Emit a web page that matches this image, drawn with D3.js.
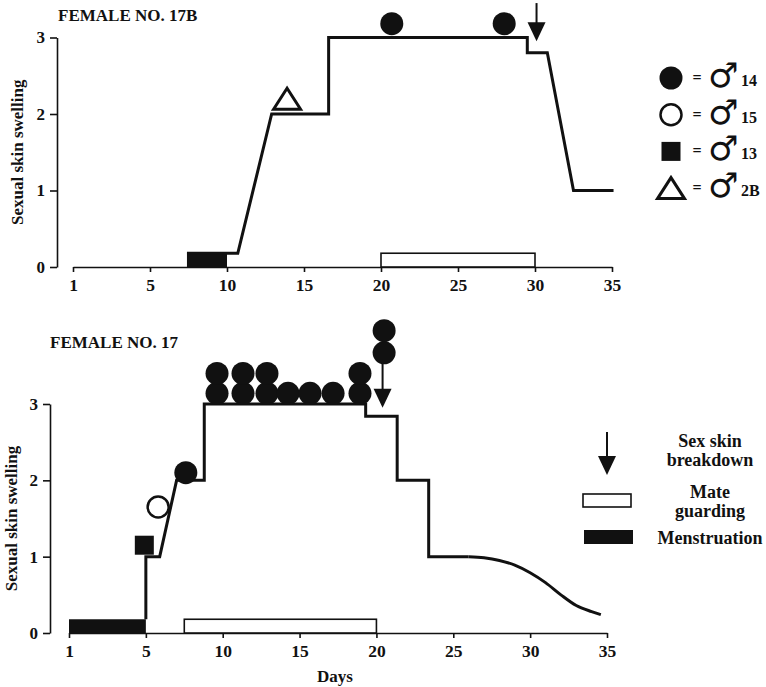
<!DOCTYPE html>
<html>
<head>
<meta charset="utf-8">
<script src="https://cdn.jsdelivr.net/npm/d3@7"></script>
<style>
body { margin: 0; background: #fff; }
text { font-family: "Liberation Serif", "Times New Roman", serif; font-weight: bold; fill: #111; }
</style>
</head>
<body>
<svg id="chart" width="766" height="687"></svg>
<script>
// day axis: first tick sits at day 0 but is printed "1"
const dayTicks = [0, 5, 10, 15, 20, 25, 30, 35];
const dayTickLabels = ["1", "5", "10", "15", "20", "25", "30", "35"];
const swellTicks = [0, 1, 2, 3];
const barHeight = 0.18; // menstruation / mate guarding bars, in swelling units

// FEMALE NO. 17B  [day, swelling]
const f17bSwelling = [[7.4, 0.18], [10.7, 0.18], [12.9, 2], [16.6, 2], [16.6, 3], [29.5, 3],
  [29.5, 2.8], [30.8, 2.8], [32.5, 1], [35.1, 1]];
const f17bMenses = [7.4, 10];
const f17bGuarding = [20, 30];
const f17bMale14 = [[20.7, 3.18], [28, 3.18]];
const f17bMale2B = [[13.9, 2.2]];
const f17bBreakdown = [[30.1, 3.45, 2.95]]; // day, arrow top, arrow tip

// FEMALE NO. 17
const f17Steps = [[5, 0.18], [5, 1], [5.9, 1], [7.0, 2], [8.8, 2], [8.8, 3], [19.3, 3], [19.3, 2.84],
  [21.35, 2.84], [21.35, 2], [23.4, 2], [23.4, 1], [26, 1]];
const f17Decline = [[26, 1], [27, 0.985], [28, 0.95], [29, 0.89], [30, 0.79], [31, 0.66], [32, 0.5],
  [33, 0.36], [34, 0.28], [34.6, 0.24]];
const f17Menses = [0, 5];
const f17Guarding = [7.5, 20];
const f17Male14 = [[7.6, 2.1],
  [9.63, 3.14], [11.32, 3.14], [12.88, 3.14], [14.25, 3.14], [15.68, 3.14], [17.18, 3.14], [18.93, 3.14],
  [9.63, 3.4], [11.32, 3.4], [12.88, 3.4], [18.93, 3.4],
  [20.5, 3.67], [20.5, 3.96]];
const f17Male15 = [[5.8, 1.65]];
const f17Male13 = [[4.9, 1.15]];
const f17Breakdown = [[20.4, 3.54, 2.95]];

// legends
const maleSymbols = ["dot", "ring", "square", "triangle"];
const maleIds = ["14", "15", "13", "2B"];
const keyLabels = [["Sex skin", "breakdown"], ["Mate", "guarding"], ["Menstruation"]];

const svg = d3.select("#chart");

function symbol(g, type, cx, cy) {
  if (type === "dot") {
    g.append("circle").attr("cx", cx).attr("cy", cy).attr("r", 11.5).attr("fill", "#111");
  } else if (type === "ring") {
    g.append("circle").attr("cx", cx).attr("cy", cy).attr("r", 10.5)
      .attr("fill", "#fff").attr("stroke", "#111").attr("stroke-width", 2.5);
  } else if (type === "square") {
    g.append("rect").attr("x", cx - 9.5).attr("y", cy - 9.5).attr("width", 19).attr("height", 19).attr("fill", "#111");
  } else {
    g.append("path").attr("transform", `translate(${cx},${cy})`)
      .attr("d", "M-13.5,10.5L0,-10.5L13.5,10.5Z")
      .attr("fill", "#fff").attr("stroke", "#111").attr("stroke-width", 3).attr("stroke-linejoin", "miter");
  }
}

function arrow(g, ax, y1, y2) {
  g.append("line").attr("x1", ax).attr("x2", ax).attr("y1", y1).attr("y2", y2 - 12)
    .attr("stroke", "#111").attr("stroke-width", 2);
  g.append("path").attr("d", `M${ax - 9},${y2 - 19}L${ax + 9},${y2 - 19}L${ax},${y2}Z`).attr("fill", "#111");
}

function drawPanel(p) {
  const x = d3.scaleLinear().domain([0, 35]).range(p.xRange);
  const y = d3.scaleLinear().domain([0, 3]).range(p.yRange);
  const g = svg.append("g");

  const xAxis = g.append("g")
    .attr("transform", `translate(0,${y(0)})`)
    .call(d3.axisBottom(x).tickValues(dayTicks).tickFormat((d, i) => dayTickLabels[i])
      .tickSize(5).tickSizeOuter(0).tickPadding(7));
  const yAxis = g.append("g")
    .attr("transform", `translate(${p.yAxisX},0)`)
    .call(d3.axisLeft(y).tickValues(swellTicks).tickFormat(d3.format("d"))
      .tickSize(7).tickSizeOuter(0).tickPadding(5));
  [xAxis, yAxis].forEach(a => {
    a.attr("font-family", null).attr("font-size", null);
    a.selectAll("path, line").attr("stroke", "#111").attr("stroke-width", 1.6);
  });
  xAxis.selectAll("text").style("font-size", "17.5px");
  yAxis.selectAll("text").style("font-size", "17px");

  g.append("text").attr("x", p.titleX).attr("y", p.titleY).style("font-size", "17px").text(p.title);
  g.append("text")
    .attr("transform", `translate(${p.labelX},${(y(0) + y(3)) / 2}) rotate(-90)`)
    .attr("text-anchor", "middle").attr("dy", "0.35em").style("font-size", "17px")
    .text("Sexual skin swelling");

  // bars
  g.append("rect").attr("x", x(p.guarding[0])).attr("y", y(barHeight))
    .attr("width", x(p.guarding[1]) - x(p.guarding[0])).attr("height", y(0) - y(barHeight))
    .attr("fill", "#fff").attr("stroke", "#111").attr("stroke-width", 1.6);
  g.append("rect").attr("x", x(p.menses[0])).attr("y", y(barHeight))
    .attr("width", x(p.menses[1]) - x(p.menses[0])).attr("height", y(0) - y(barHeight))
    .attr("fill", "#111");

  // swelling line
  const line = d3.line().x(d => x(d[0])).y(d => y(d[1]));
  p.lines.forEach(l => {
    g.append("path").attr("d", line.curve(l.curve)(l.data))
      .attr("fill", "none").attr("stroke", "#111").attr("stroke-width", 3)
      .attr("stroke-linejoin", "miter");
  });

  p.marks.forEach(m => m.data.forEach(d => symbol(g, m.type, x(d[0]), y(d[1]))));
  p.breakdown.forEach(d => arrow(g, x(d[0]), y(d[1]), y(d[2])));
}

drawPanel({
  title: "FEMALE NO. 17B", titleX: 58, titleY: 21, labelX: 17,
  xRange: [73, 612], yRange: [267, 37.5], yAxisX: 57,
  menses: f17bMenses, guarding: f17bGuarding,
  lines: [{ data: f17bSwelling, curve: d3.curveLinear }],
  marks: [{ type: "dot", data: f17bMale14 }, { type: "triangle", data: f17bMale2B }],
  breakdown: f17bBreakdown
});

drawPanel({
  title: "FEMALE NO. 17", titleX: 50, titleY: 348, labelX: 11,
  xRange: [69, 607], yRange: [633, 404], yAxisX: 50,
  menses: f17Menses, guarding: f17Guarding,
  lines: [{ data: f17Steps, curve: d3.curveLinear }, { data: f17Decline, curve: d3.curveMonotoneX }],
  marks: [{ type: "dot", data: f17Male14 }, { type: "ring", data: f17Male15 },
    { type: "square", data: f17Male13 }],
  breakdown: f17Breakdown
});

svg.append("text").attr("x", 335).attr("y", 682).attr("text-anchor", "middle")
  .style("font-size", "17px").text("Days");

// male key (top right)
const key = svg.append("g");
maleSymbols.forEach((s, i) => {
  const cy = 78 + i * 36.7;
  symbol(key, s, 671, cy);
  key.append("text").attr("x", 697).attr("y", cy + 5).attr("text-anchor", "middle")
    .style("font-size", "16px").text("=");
  key.append("text").attr("x", 708).attr("y", cy + 9)
    .style("font-family", "DejaVu Sans").style("font-size", "34px").text("\u2642");
  key.append("text").attr("x", 741).attr("y", cy + 8)
    .style("font-size", "16px").text(maleIds[i]);
});

// event key (bottom right)
const ev = svg.append("g");
arrow(ev, 607, 432, 475);
ev.append("rect").attr("x", 583).attr("y", 494).attr("width", 48).attr("height", 13)
  .attr("fill", "#fff").attr("stroke", "#111").attr("stroke-width", 1.6);
ev.append("rect").attr("x", 584).attr("y", 530).attr("width", 49).attr("height", 14).attr("fill", "#111");
const keyY = [[447, 466], [498, 517], [544]];
keyLabels.forEach((lines, i) => {
  lines.forEach((t, j) => {
    ev.append("text").attr("x", 710).attr("y", keyY[i][j]).attr("text-anchor", "middle")
      .style("font-size", "18px").text(t);
  });
});
</script>
</body>
</html>
